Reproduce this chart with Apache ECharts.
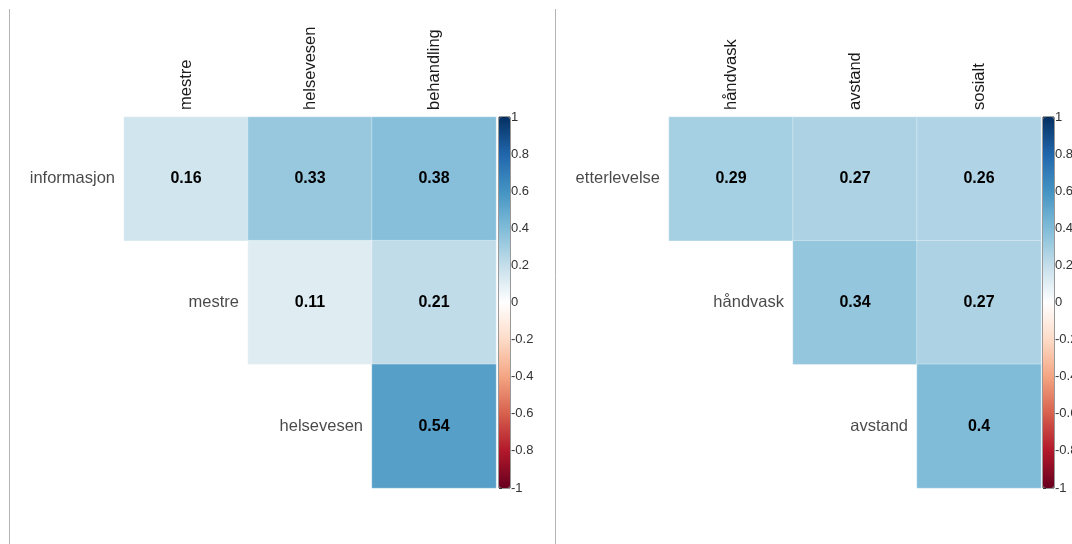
<!DOCTYPE html>
<html>
<head>
<meta charset="utf-8">
<script src="https://cdn.jsdelivr.net/npm/echarts@6/dist/echarts.min.js"></script>
<style>
  html, body { margin: 0; padding: 0; background: #fff; }
  #chart { width: 1072px; height: 544px; }
</style>
</head>
<body>
<div id="chart"></div>
<script>
// Variables of each correlation matrix (upper triangle, no diagonal)
const varsA = ['informasjon', 'mestre', 'helsevesen', 'behandling'];
const varsB = ['etterlevelse', 'håndvask', 'avstand', 'sosialt'];

// Correlations per row: row i holds r(i, j) for j = i+1 .. n-1
const corrA = [
  [0.16, 0.33, 0.38],
  [0.11, 0.21],
  [0.54]
];
const corrB = [
  [0.29, 0.27, 0.26],
  [0.34, 0.27],
  [0.4]
];

// Colour bar tick range
const scaleMin = -1, scaleMax = 1, scaleStep = 0.2;

// Red-blue diverging palette, evenly spread over -1 .. 1
const rdbu = ['#67001F', '#B2182B', '#D6604D', '#F4A582', '#FDDBC7', '#FFFFFF',
              '#C4DEEA', '#80BCD8', '#4393C3', '#2166AC', '#053061'];

const FONT = '"Liberation Sans", Arial, sans-serif';

function cells(corr) {
  const out = [];
  corr.forEach((row, i) => row.forEach((v, k) => out.push([i + 1 + k, i, v])));
  return out;
}
function diagLabels(vars) {
  return vars.slice(0, vars.length - 1).map((name, i) => [i, i, name]);
}

const panels = [
  { vars: varsA, corr: corrA, gridLeft: 0, barLeft: 499 },
  { vars: varsB, corr: corrB, gridLeft: 545, barLeft: 1043 }
];

const grid = [], xAxis = [], yAxis = [], series = [], visualMap = [];

panels.forEach((p, idx) => {
  const g = idx * 2;
  // matrix grid
  grid.push({ left: p.gridLeft, top: 117, width: 496, height: 371, outerBoundsMode: 'none' });
  // colour bar scale grid
  grid.push({ left: p.barLeft, top: 117, width: 11, height: 371, outerBoundsMode: 'none' });

  xAxis.push({
    type: 'category', gridIndex: g, data: p.vars, position: 'top',
    axisLine: { show: false }, axisTick: { show: false }, splitLine: { show: false },
    axisLabel: {
      interval: 0, rotate: -90, margin: 7, fontSize: 16.5, color: '#1a1a1a', fontFamily: FONT,
      formatter: (v, i) => (i === 0 ? '' : v)
    }
  });
  yAxis.push({
    type: 'category', gridIndex: g, data: p.vars.slice(0, p.vars.length - 1), inverse: true,
    show: false
  });

  xAxis.push({ type: 'value', gridIndex: g + 1, show: false, min: 0, max: 1 });
  yAxis.push({
    type: 'value', gridIndex: g + 1, position: 'right',
    min: scaleMin, max: scaleMax, interval: scaleStep,
    axisLine: { show: false }, splitLine: { show: false },
    axisTick: { show: true, length: 3, lineStyle: { color: '#333', width: 1 } },
    axisLabel: { margin: 1, fontSize: 13, color: '#333', fontFamily: FONT,
      formatter: v => String(Math.round(v * 10) / 10) }
  });

  series.push({
    type: 'heatmap', xAxisIndex: g, yAxisIndex: g,
    data: cells(p.corr),
    itemStyle: { borderColor: 'rgba(255,255,255,0.35)', borderWidth: 1 },
    label: {
      show: true, formatter: d => String(d.value[2]),
      fontSize: 16, fontWeight: 'bold', color: '#000', fontFamily: FONT
    },
    emphasis: { disabled: true }
  });
  series.push({
    type: 'scatter', xAxisIndex: g, yAxisIndex: g,
    data: diagLabels(p.vars),
    symbolSize: 0, silent: true,
    label: {
      show: true, position: [53, 0], align: 'right', verticalAlign: 'middle',
      formatter: d => d.value[2], fontSize: 16.5, color: '#1a1a1a', fontFamily: FONT
    }
  });
  // empty series to anchor the colour bar axes
  series.push({ type: 'line', xAxisIndex: g + 1, yAxisIndex: g + 1, data: [], silent: true });

  visualMap.push({
    type: 'continuous', min: scaleMin, max: scaleMax,
    seriesIndex: idx * 3, calculable: false, hoverLink: false,
    left: p.barLeft, top: 117, itemWidth: 11, itemHeight: 371, padding: 0,
    inRange: { color: rdbu }, text: null, showLabel: false
  });
});

const chart = echarts.init(document.getElementById('chart'), null, { renderer: 'canvas' });
chart.setOption({
  animation: false,
  backgroundColor: '#fff',
  textStyle: { fontFamily: FONT },
  grid, xAxis, yAxis, series, visualMap,
  graphic: [
    { type: 'line', shape: { x1: 9.5, y1: 9, x2: 9.5, y2: 544 }, style: { stroke: '#b4b4b4', lineWidth: 1 } },
    { type: 'line', shape: { x1: 555.5, y1: 9, x2: 555.5, y2: 544 }, style: { stroke: '#b4b4b4', lineWidth: 1 } },
    { type: 'rect', shape: { x: 499, y: 117, width: 11, height: 371 }, style: { fill: 'none', stroke: '#333', lineWidth: 1 }, silent: true },
    { type: 'rect', shape: { x: 1043, y: 117, width: 11, height: 371 }, style: { fill: 'none', stroke: '#333', lineWidth: 1 }, silent: true }
  ]
});
</script>
</body>
</html>
